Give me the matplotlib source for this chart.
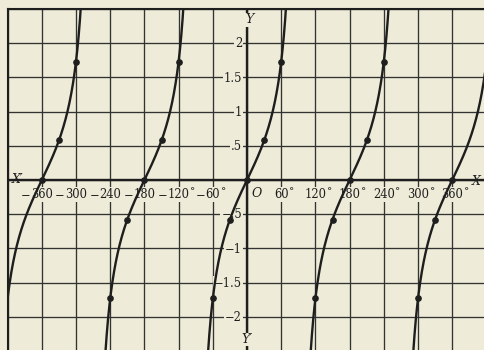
import numpy as np
import matplotlib
matplotlib.use("Agg")
import matplotlib.pyplot as plt

# Plotted points of y = tan x (angle in degrees, tabulated value)
point_angles = [-360, -330, -300, -240, -210, -180, -150, -120, -60, -30, 0,
                30, 60, 120, 150, 180, 210, 240, 300, 330, 360]
point_values = [0, .58, 1.73, -1.73, -.58, 0, .58, 1.73, -1.73, -.58, 0,
                .58, 1.73, -1.73, -.58, 0, .58, 1.73, -1.73, -.58, 0]

# Centres of the tangent branches that are drawn
branch_centres = [-360, -180, 0, 180, 360]

# Axis labels
neg_ticks = [-360, -300, -240, -180, -120, -60]
pos_ticks = [60, 120, 180, 240, 300, 360]
y_ticks = [2, 1.5, 1, .5, -.5, -1, -1.5, -2]
y_tick_labels = ["2", "1.5", "1", ".5", "\u2212.5", "\u22121", "\u22121.5", "\u22122"]

BG = "#eeecd8"
INK = "#1e1e1e"
GRID = "#333333"
SERIF = ["DejaVu Serif", "DejaVu Sans"]

fig = plt.figure(figsize=(4.85, 3.5), dpi=100, facecolor=BG)
ax = fig.add_axes([7.6 / 485, 0, 1 - 7.6 / 485, 1 - 9 / 350])
ax.set_facecolor(BG)
ax.set_xlim(-420, 417.5)
ax.set_ylim(-2.485, 2.5)
ax.set_xticks([])
ax.set_yticks([])
for side in ("right", "bottom"):
    ax.spines[side].set_visible(False)
for side in ("left", "top"):
    ax.spines[side].set_linewidth(1.5)
    ax.spines[side].set_color(INK)
    ax.spines[side].set_zorder(10)

# square grid: 60 degrees and 0.5 units per cell
for gx in range(-420, 481, 60):
    ax.axvline(gx, color=GRID, lw=0.95, zorder=1)
for gy in np.arange(-2.5, 2.51, 0.5):
    ax.axhline(gy, color=GRID, lw=0.95, zorder=1)

# coordinate axes
ax.axhline(0, color=INK, lw=1.7, zorder=2)
ax.axvline(0, color=INK, lw=1.7, zorder=2)

# tangent branches (drawn over the labels, as the curves cross them)
for c in branch_centres:
    a = np.linspace(c - 76, c + 76, 400)
    ax.plot(a, np.tan(np.radians(a)), color=INK, lw=1.7, zorder=8,
            solid_capstyle="round")

ax.plot(point_angles, point_values, "o", color=INK, ms=3.8, zorder=9)

fs = 8.3
box = dict(facecolor=BG, edgecolor="none", pad=0.6)
digit_w = 7.3  # pixel advance of one digit at this size

def x_label(deg):
    txt = str(abs(deg))
    half = len(txt) * digit_w / 2
    ax.annotate(txt, xy=(deg, 0), xytext=(0, -18), textcoords="offset pixels",
                ha="center", va="baseline", fontsize=fs, family=SERIF,
                color=INK, bbox=box, zorder=6, annotation_clip=False)
    if deg < 0:
        ax.annotate("\u2212", xy=(deg, 0), xytext=(-half - 0.3, -18),
                    textcoords="offset pixels", ha="right", va="baseline",
                    fontsize=fs, family=SERIF, color=INK, bbox=box, zorder=6)
    ax.annotate("\u00b0", xy=(deg, 0), xytext=(half + 0.6, -14.5),
                textcoords="offset pixels", ha="left", va="baseline",
                fontsize=7.5, family=SERIF, color=INK, zorder=6)

for d in neg_ticks + pos_ticks:
    x_label(d)

for yv, lab in zip(y_ticks, y_tick_labels):
    ax.annotate(lab, xy=(0, yv), xytext=(-5, -4.2), textcoords="offset pixels",
                ha="right", va="baseline", fontsize=fs, family=SERIF,
                color=INK, bbox=box, zorder=6)

ital = dict(fontsize=9, family=SERIF, style="italic", color=INK, zorder=7)
ax.annotate("O", xy=(0, 0), xytext=(5, -16.7), textcoords="offset pixels",
            ha="left", va="baseline", **ital)
ax.annotate("X\u2032", xy=(-420, 0), xytext=(4, -3), textcoords="offset pixels",
            ha="left", va="baseline", **ital)
ax.annotate("X", xy=(394, 0), xytext=(0, -5), textcoords="offset pixels",
            ha="left", va="baseline", **ital)
ax.text(3.5, 2.291, "Y", ha="center", va="baseline",
        bbox=dict(facecolor=BG, edgecolor="none", pad=0.3), **ital)
ax.text(0, -2.383, "Y\u2032", ha="center", va="baseline",
        bbox=dict(facecolor=BG, edgecolor="none", pad=0.3), **ital)

fig.savefig("out.png", dpi=100, facecolor=BG)
